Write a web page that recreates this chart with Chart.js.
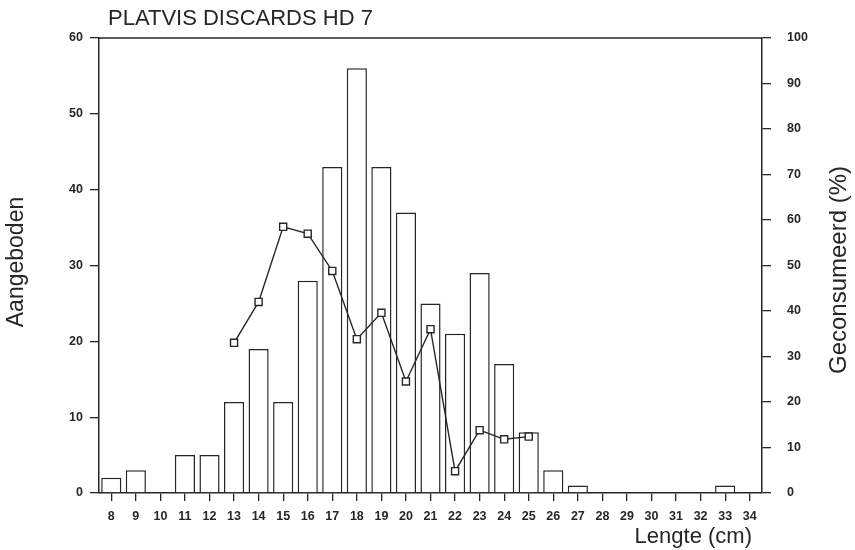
<!DOCTYPE html>
<html>
<head>
<meta charset="utf-8">
<script src="https://cdn.jsdelivr.net/npm/chart.js@4.4.1/dist/chart.umd.min.js"></script>
<style>
  html, body { margin: 0; padding: 0; background: #ffffff; }
  #wrap { width: 855px; height: 550px; position: relative; }
</style>
</head>
<body>
<div id="wrap"><canvas id="c" width="855" height="550"></canvas></div>
<script>
const titleText = 'PLATVIS DISCARDS HD 7';
const leftAxisTitle = 'Aangeboden';
const rightAxisTitle = 'Geconsumeerd (%)';
const xAxisTitle = 'Lengte (cm)';

const lengths = ['8','9','10','11','12','13','14','15','16','17','18','19','20','21','22','23','24','25','26','27','28','29','30','31','32','33','34'];
const offered = [2,3,0,5,5,12,19,12,28,43,56,43,37,25,21,29,17,8,3,1,0,0,0,0,0,1,0];
const consumedPct = [null,null,null,null,null,33,42,58.5,57,48.8,33.8,39.6,24.5,36,4.8,13.8,11.8,12.4,null,null,null,null,null,null,null,null,null];
const leftTicks = [0,10,20,30,40,50,60];
const rightTicks = [0,10,20,30,40,50,60,70,80,90,100];

const ink = '#262626';
const tickFont = { family: 'Liberation Sans, Arial, sans-serif', size: 12.5, weight: 'bold' };

const textPlugin = {
  id: 'textPlugin',
  afterDraw(chart) {
    const ctx = chart.ctx;
    const a = chart.chartArea;
    ctx.save();
    ctx.strokeStyle = ink;
    ctx.lineWidth = 1.5;
    ctx.beginPath();
    ctx.moveTo(a.left, a.top);
    ctx.lineTo(a.right, a.top);
    ctx.stroke();
    ctx.fillStyle = ink;
    ctx.font = '22px "Liberation Sans", Arial, sans-serif';
    ctx.textBaseline = 'middle';
    ctx.textAlign = 'left';
    ctx.fillText(titleText, 108, 19);
    ctx.textAlign = 'right';
    ctx.fillText(xAxisTitle, a.right - 10, 537);
    ctx.font = '23px "Liberation Sans", Arial, sans-serif';
    ctx.textAlign = 'center';
    ctx.save();
    ctx.translate(17, 262);
    ctx.rotate(-Math.PI / 2);
    ctx.fillText(leftAxisTitle, 0, 0);
    ctx.restore();
    ctx.save();
    ctx.translate(839, 270);
    ctx.rotate(-Math.PI / 2);
    ctx.font = '24px "Liberation Sans", Arial, sans-serif';
    ctx.fillText(rightAxisTitle, 0, 0);
    ctx.restore();
    ctx.restore();
  }
};

new Chart(document.getElementById('c'), {
  type: 'bar',
  data: {
    labels: lengths,
    datasets: [
      {
        type: 'line',
        label: 'Geconsumeerd (%)',
        data: consumedPct,
        yAxisID: 'y2',
        borderColor: ink,
        borderWidth: 1.4,
        backgroundColor: '#ffffff',
        pointStyle: 'rect',
        pointRadius: 5,
        pointBorderWidth: 1.4,
        pointBorderColor: ink,
        pointBackgroundColor: '#ffffff',
        tension: 0,
        spanGaps: false,
        order: 0
      },
      {
        type: 'bar',
        label: 'Aangeboden',
        data: offered,
        yAxisID: 'y',
        backgroundColor: '#ffffff',
        borderColor: ink,
        borderWidth: 1.5,
        barPercentage: 0.82,
        categoryPercentage: 1.0,
        order: 1
      }
    ]
  },
  options: {
    responsive: false,
    animation: false,
    layout: { padding: { top: 38, left: 0, right: 0, bottom: 0 } },
    plugins: {
      legend: { display: false },
      tooltip: { enabled: false },
      title: { display: false }
    },
    scales: {
      x: {
        type: 'category',
        offset: true,
        grid: { display: true, drawOnChartArea: false, drawTicks: true, tickLength: 8, color: ink, lineWidth: 1.3, offset: false },
        border: { display: true, color: ink, width: 1.5 },
        ticks: { color: ink, font: tickFont, padding: 8, maxRotation: 0, autoSkip: false },
        afterFit(s) { s.height = 57; }
      },
      y: {
        position: 'left',
        min: 0, max: 60,
        afterBuildTicks(s) { s.ticks = leftTicks.map(v => ({ value: v })); },
        grid: { display: true, drawOnChartArea: false, drawTicks: true, tickLength: 9, color: ink, lineWidth: 1.3 },
        border: { display: true, color: ink, width: 1.5 },
        ticks: { color: ink, font: tickFont, padding: 7 },
        afterFit(s) { s.width = 99; }
      },
      y2: {
        position: 'right',
        min: 0, max: 100,
        afterBuildTicks(s) { s.ticks = rightTicks.map(v => ({ value: v })); },
        grid: { display: true, drawOnChartArea: false, drawTicks: true, tickLength: 9, color: ink, lineWidth: 1.3 },
        border: { display: true, color: ink, width: 1.5 },
        ticks: { color: ink, font: tickFont, padding: 16 },
        afterFit(s) { s.width = 93; }
      }
    }
  },
  plugins: [textPlugin]
});
</script>
</body>
</html>
